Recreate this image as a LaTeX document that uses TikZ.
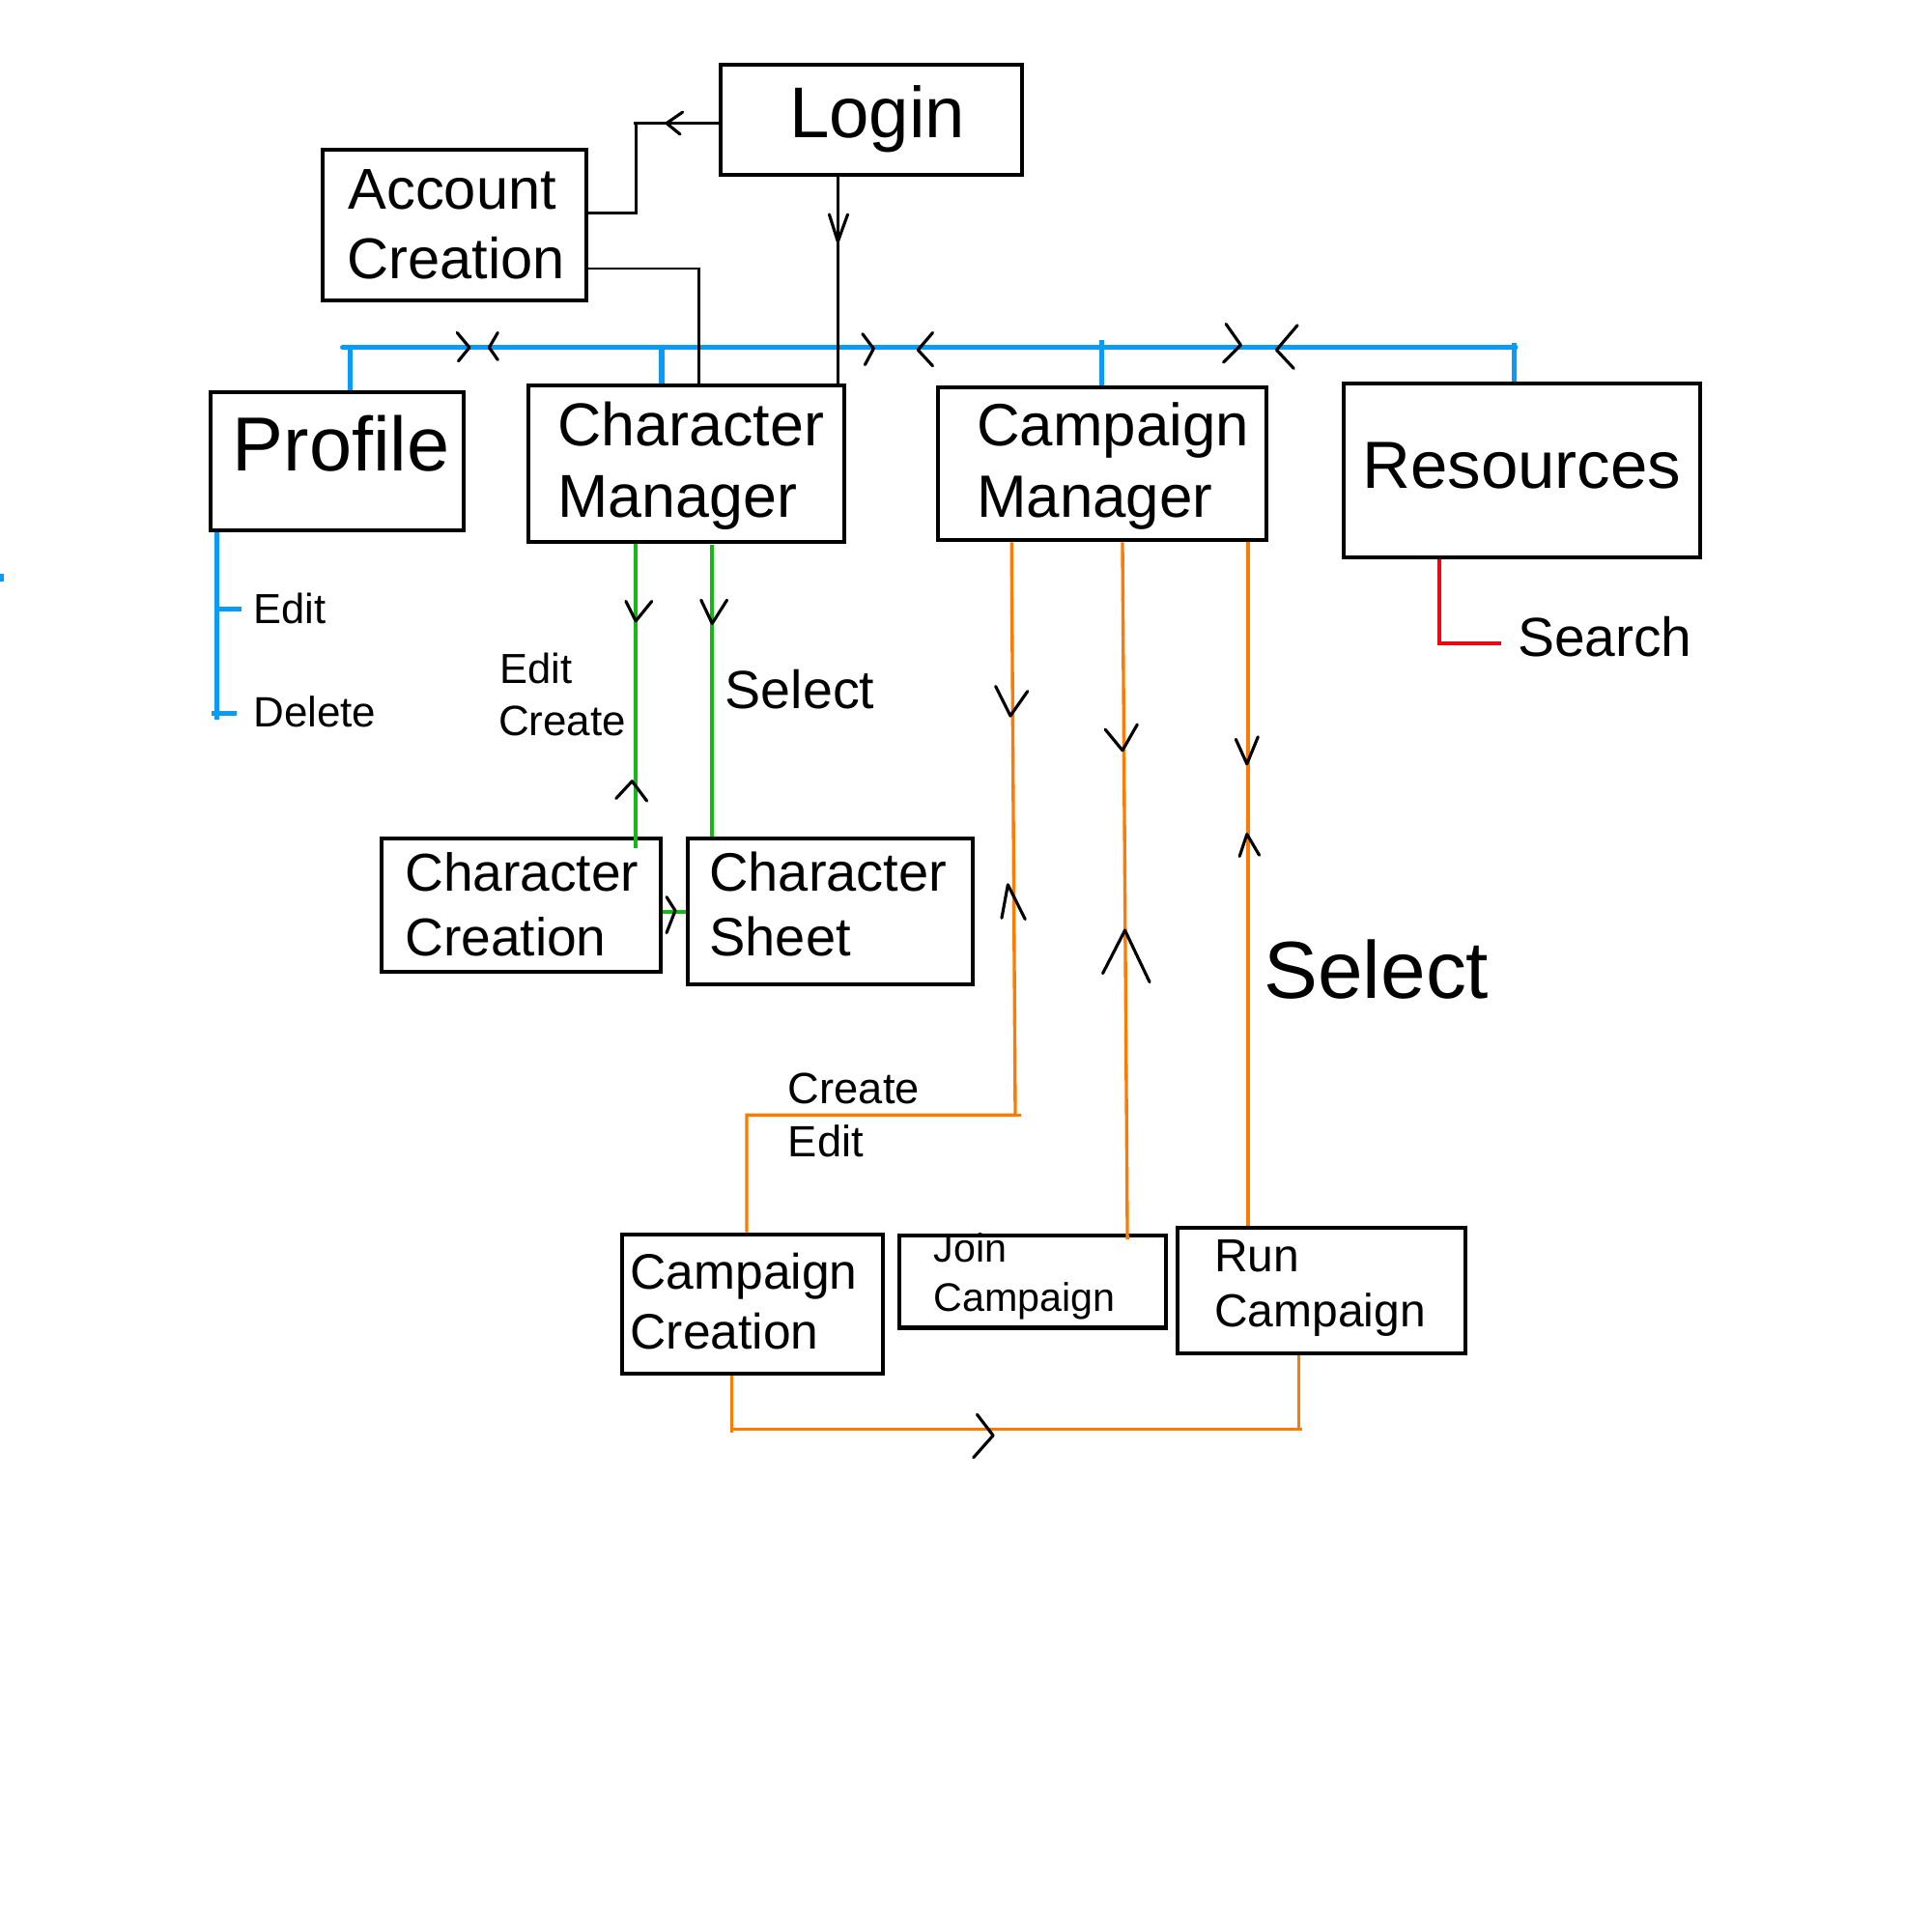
\documentclass[tikz,border=0pt]{standalone}
\usepackage{fontspec}
\setmainfont{Liberation Sans}
\definecolor{bl}{RGB}{10,155,245}
\definecolor{gr}{RGB}{20,185,20}
\definecolor{orn}{RGB}{255,122,0}
\definecolor{rd}{RGB}{235,10,20}
\tikzset{
 box/.style={draw=black, line width=0.9pt, inner sep=0pt, anchor=north west},
 lbl/.style={anchor=base west, inner sep=0pt, text=black},
 wire/.style={draw=black, line width=0.6pt},
 chev/.style={draw=black, line width=0.7pt, line cap=round, line join=round},
 busline/.style={draw=bl, line width=1.15pt},
 grline/.style={draw=gr, line width=0.85pt},
 orline/.style={draw=orn, line width=0.75pt},
 rdline/.style={draw=rd, line width=0.9pt},
}
\newcommand\fs[1]{\fontsize{#1pt}{#1pt}\selectfont}
\begin{document}
\begin{tikzpicture}[x=0.1mm,y=-0.1mm]
\useasboundingbox[fill=white] (0,0) rectangle (1568,1568);
% boxes
\node[box, minimum width=24.5mm, minimum height=8.9mm] (login) at (583,51) {};
\node[box, minimum width=21.4mm, minimum height=12.2mm] (acct) at (260,120) {};
\node[box, minimum width=20.6mm, minimum height=11.2mm] (profile) at (169,317) {};
\node[box, minimum width=25.7mm, minimum height=12.7mm] (charmgr) at (427,311) {};
\node[box, minimum width=26.6mm, minimum height=12.4mm] (campmgr) at (760,313) {};
\node[box, minimum width=28.9mm, minimum height=14.1mm] (res) at (1089,310) {};
\node[box, minimum width=22.7mm, minimum height=10.8mm] (charcre) at (308,679) {};
\node[box, minimum width=23.1mm, minimum height=11.8mm] (charsheet) at (557,679) {};
\node[box, minimum width=21.2mm, minimum height=11.3mm] (campcre) at (503,1000) {};
\node[box, minimum width=21.7mm, minimum height=7.5mm] (join) at (728,1001) {};
\node[box, minimum width=23.4mm, minimum height=10.2mm] (run) at (954,995) {};
% box texts
\node[lbl, font=\fs{16.6}] (tlogin) at (640,112) {Login};
\node[lbl, font=\fs{13.3}] (tacct1) at (282,170) {Account};
\node[lbl, font=\fs{13.3}] (tacct2) at (281,226) {Creation};
\node[lbl, font=\fs{17.7}] (tprof) at (188,382) {Profile};
\node[lbl, font=\fs{14.0}] (tcm1) at (452,362) {Character};
\node[lbl, font=\fs{14.0}] (tcm2) at (452,420) {Manager};
\node[lbl, font=\fs{13.8}] (tpm1) at (792,362) {Campaign};
\node[lbl, font=\fs{13.8}] (tpm2) at (792,420) {Manager};
\node[lbl, font=\fs{15.4}] (tres) at (1105,396) {Resources};
\node[lbl, font=\fs{12.3}] (tcc1) at (328,723) {Character};
\node[lbl, font=\fs{12.3}] (tcc2) at (328,776) {Creation};
\node[lbl, font=\fs{12.5}] (tcs1) at (575,723) {Character};
\node[lbl, font=\fs{12.5}] (tcs2) at (575,776) {Sheet};
\node[lbl, font=\fs{11.5}] (tpc1) at (511,1046) {Campaign};
\node[lbl, font=\fs{11.5}] (tpc2) at (511,1095) {Creation};
\node[lbl, font=\fs{9.2}] (tj1) at (757,1024) {Join};
\node[lbl, font=\fs{9.2}] (tj2) at (757,1064) {Campaign};
\node[lbl, font=\fs{10.7}] (tr1) at (985,1032) {Run};
\node[lbl, font=\fs{10.7}] (tr2) at (985,1077) {Campaign};
% other labels
\node[lbl, font=\fs{9.7}] (pedit) at (205,506) {Edit};
\node[lbl, font=\fs{9.8}] (pdel) at (205,590) {Delete};
\node[lbl, font=\fs{9.7}] (gedit) at (405,555) {Edit};
\node[lbl, font=\fs{9.8}] (gcreate) at (404,597) {Create};
\node[lbl, font=\fs{12.4}] (gsel) at (588,575) {Select};
\node[lbl, font=\fs{12.7}] (rsearch) at (1231,533) {Search};
\node[lbl, font=\fs{18.7}] (osel) at (1025,810) {Select};
\node[lbl, font=\fs{10.1}] (ocreate) at (639,896) {Create};
\node[lbl, font=\fs{10.1}] (oedit) at (639,939) {Edit};
% blue bus
\coordinate (busL) at (278,282);
\coordinate (busR) at (1230,282);
\draw[busline, line cap=round] (busL) -- (busR);
\draw[busline] (284,282) -- (284,282 |- profile.north);
\draw[busline] (537,282) -- (537,282 |- charmgr.north);
\draw[busline] (894,276) -- (894,276 |- campmgr.north);
\draw[busline] (1229,278) -- (1229,278 |- res.north);
\draw[busline] (176,0 |- profile.south) -- (176,584);
\draw[busline] (176,494) -- (196,494);
\draw[busline] (172,579) -- (192,579);
\fill[bl] (0,466) rectangle (3,472);
% chevrons on bus
\draw[chev] (371,270) -- (381,282) -- (372,293);
\draw[chev] (404,270) -- (397,282) -- (404,292);
\draw[chev] (700,271) -- (709,283) -- (702,296);
\draw[chev] (757,270) -- (745,284) -- (757,297);
\draw[chev] (995,263) -- (1007,280) -- (993,294);
\draw[chev] (1053,264) -- (1036,284) -- (1050,299);
% black wires
\draw[wire] (login.west |- 0,100) -- (514,100);
\draw[wire] (516,100) -- (516,173) -- (acct.east |- 0,173);
\draw[chev] (554,91) -- (541,100) -- (552,109);
\draw[wire] (acct.east |- 0,218) -- (567,218) -- (567,0 |- charmgr.north);
\draw[wire] (680,0 |- login.south) -- (680,0 |- charmgr.north);
\draw[chev] (673,174) -- (680,196) -- (688,174);
% green
\draw[grline] (516,0 |- charmgr.south) -- (516,688);
\draw[chev] (508,488) -- (516,504) -- (529,488);
\draw[chev] (500,648) -- (513,634) -- (525,650);
\draw[grline] (578,442) -- (578,0 |- charsheet.north);
\draw[chev] (569,487) -- (578,506) -- (590,487);
\draw[grline] (charcre.east |- 0,740) -- (charsheet.west |- 0,740);
\draw[chev] (541,728) -- (548,739) -- (541,757);
% red
\draw[rdline] (1168,0 |- res.south) -- (1168,522) -- (1218,522);
% orange
\draw[orline] (821,0 |- campmgr.south) -- (824,905) -- (606,905) -- (606,0 |- campcre.north);
\draw[orline] (824,905) -- (829,905);
\draw[chev] (808,557) -- (820,581) -- (834,561);
\draw[chev] (813,745) -- (818,718) -- (832,746);
\draw[orline] (911,0 |- campmgr.south) -- (915,1006);
\draw[chev] (897,592) -- (911,609) -- (923,588);
\draw[chev] (895,790) -- (913,755) -- (933,797);
\draw[orline] (1013,440) -- (1013,0 |- run.north);
\draw[chev] (1003,600) -- (1012,620) -- (1021,598);
\draw[chev] (1006,695) -- (1012,677) -- (1022,694);
\draw[orline] (594,0 |- campcre.south) -- (594,1163);
\draw[orline] (594,1160) -- (1057,1160);
\draw[orline] (1054,1160) -- (1054,0 |- run.south);
\draw[chev] (793,1148) -- (806,1165) -- (790,1183);
\end{tikzpicture}
\end{document}
